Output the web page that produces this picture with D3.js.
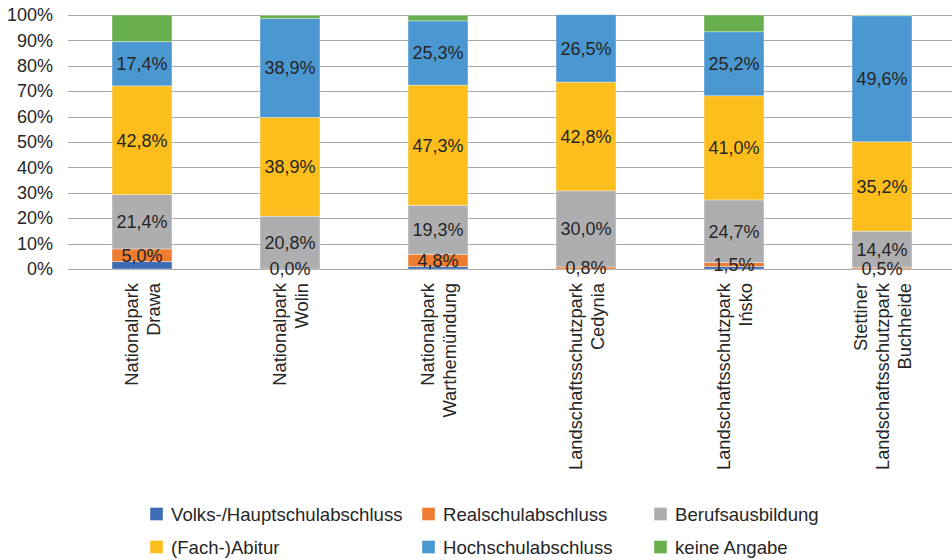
<!DOCTYPE html>
<html>
<head>
<meta charset="utf-8">
<script src="https://cdn.jsdelivr.net/npm/d3@7"></script>
<style>
  html, body { margin: 0; padding: 0; background: #fff; }
  svg { display: block; font-family: "Liberation Sans", Arial, sans-serif; }
</style>
</head>
<body>
<svg id="chart" width="952" height="560"></svg>
<script>
// ---- data ----
const categories = [
  ["Nationalpark", "Drawa"],
  ["Nationalpark", "Wolin"],
  ["Nationalpark", "Warthemündung"],
  ["Landschaftsschutzpark", "Cedynia"],
  ["Landschaftsschutzpark", "Ińsko"],
  ["Stettiner", "Landschaftsschutzpark", "Buchheide"]
];
const seriesNames = ["Volks-/Hauptschulabschluss", "Realschulabschluss", "Berufsausbildung", "(Fach-)Abitur", "Hochschulabschluss", "keine Angabe"];
const volks   = [2.9, 0.0, 1.0, 0.0, 1.0, 0.0];
const real    = [5.0, 0.0, 4.8, 0.8, 1.5, 0.5];
const beruf   = [21.4, 20.8, 19.3, 30.0, 24.7, 14.4];
const abitur  = [42.8, 38.9, 47.3, 42.8, 41.0, 35.2];
const hoch    = [17.4, 38.9, 25.3, 26.5, 25.2, 49.6];
const keine   = [10.5, 1.3, 2.2, 0.0, 6.6, 0.3];
const showLabel = [false, true, true, true, true, false];
const yTicks = [0, 10, 20, 30, 40, 50, 60, 70, 80, 90, 100];
const colors = ["#3D6DB5", "#EE7D31", "#AEAEB0", "#FCBE1C", "#4A97D1", "#67AF4C"];

const seriesValues = [volks, real, beruf, abitur, hoch, keine];
const rows = categories.map((c, i) => {
  const r = { key: i };
  seriesNames.forEach((s, j) => r[s] = seriesValues[j][i]);
  return r;
});

// ---- layout ----
const svg = d3.select("#chart");
const W = 952;
const plotLeft = 68, plotTop = 15, plotBottom = 269;

const x = d3.scaleBand()
  .domain(categories.map((c, i) => i))
  .range([plotLeft, plotLeft + 888])
  .paddingInner(0.595)
  .paddingOuter(0.2975);
const y = d3.scaleLinear().domain([0, 100]).range([plotBottom, plotTop]);

const fmt = v => v.toFixed(1).replace(".", ",") + "%";

// gridlines
svg.append("g").selectAll("line").data(yTicks).join("line")
  .attr("x1", plotLeft).attr("x2", W)
  .attr("y1", d => Math.round(y(d)) + 0.5).attr("y2", d => Math.round(y(d)) + 0.5)
  .attr("stroke", "#A6A6A6").attr("stroke-width", 1.2);

// y axis labels
const yAxis = d3.axisLeft(y).tickValues(yTicks).tickFormat(d => d + "%").tickSize(0).tickPadding(0);
const yg = svg.append("g").attr("transform", `translate(53,0)`).call(yAxis);
yg.select(".domain").remove();
yg.selectAll("text").attr("font-size", 18).attr("fill", "#262626")
  .attr("font-family", '"Liberation Sans", Arial, sans-serif');

// stacks
const stack = d3.stack().keys(seriesNames);
const stacked = stack(rows);

const layers = svg.append("g").selectAll("g").data(stacked).join("g")
  .attr("fill", (d, i) => colors[i]);
layers.selectAll("rect").data(d => d).join("rect")
  .attr("x", d => x(d.data.key))
  .attr("width", x.bandwidth())
  .attr("y", d => y(d[1]))
  .attr("height", d => Math.max(0, y(d[0]) - y(d[1])))
  .attr("stroke", "rgba(255,255,255,0.45)")
  .attr("stroke-width", 0.8);

// data labels
const lbl = svg.append("g");
stacked.forEach((layer, i) => {
  if (!showLabel[i]) return;
  lbl.selectAll(null).data(layer).join("text")
    .attr("x", d => x(d.data.key) + x.bandwidth() / 2)
    .attr("y", d => y((d[0] + d[1]) / 2))
    .attr("dy", "0.36em")
    .attr("text-anchor", "middle")
    .attr("font-size", 18)
    .attr("fill", "#262626")
    .text(d => fmt(d.data[layer.key]));
});

// category labels (rotated)
const catG = svg.append("g").selectAll("g").data(categories).join("g")
  .attr("transform", (d, i) => `translate(${x(i) + x.bandwidth() / 2},283) rotate(-90)`);
catG.each(function(lines) {
  const g = d3.select(this);
  const n = lines.length;
  lines.forEach((t, k) => {
    g.append("text")
      .attr("x", 0)
      .attr("y", (k - (n - 1) / 2) * 22)
      .attr("dy", "0.36em")
      .attr("text-anchor", "end")
      .attr("font-size", 18.3)
      .attr("fill", "#262626")
      .text(t);
  });
});

// legend
const legendPos = [[150, 514], [422, 514], [654, 514], [150, 547], [422, 547], [654, 547]];
const lg = svg.append("g").selectAll("g").data(seriesNames).join("g")
  .attr("transform", (d, i) => `translate(${legendPos[i][0]},${legendPos[i][1]})`);
lg.append("rect").attr("x", 0).attr("y", -6.5).attr("width", 13).attr("height", 13)
  .attr("fill", (d, i) => colors[i]).attr("stroke", "rgba(255,255,255,0.5)").attr("stroke-width", 0.8);
lg.append("text").attr("x", 21).attr("y", 0).attr("dy", "0.36em")
  .attr("font-size", 18.6).attr("fill", "#262626").text(d => d);
</script>
</body>
</html>
